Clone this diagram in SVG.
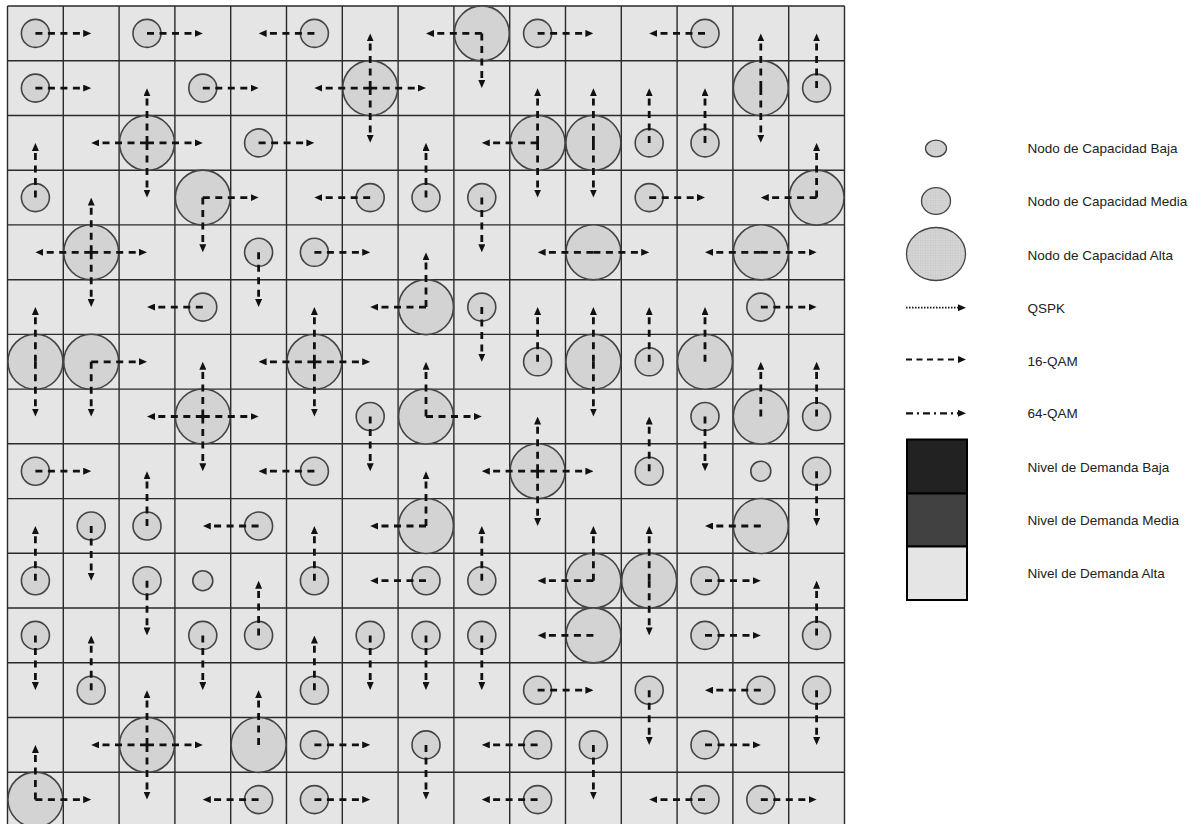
<svg xmlns="http://www.w3.org/2000/svg" width="1194" height="824" viewBox="0 0 1194 824">
<style>
.grid{stroke:#2a2a2a;stroke-width:1.4;fill:none}
.n{fill:#d3d3d3;stroke:#444;stroke-width:1.6}
.c{stroke:#111;stroke-width:2.8;stroke-dasharray:7 5.5;fill:none;marker-end:url(#ah)}
.lt{font-family:"Liberation Sans",Arial,sans-serif;font-size:13.5px;fill:#222}
.lg{fill:url(#hatch);stroke:#444;stroke-width:1.3}
</style>
<defs>
<marker id="ah" markerUnits="userSpaceOnUse" markerWidth="8" markerHeight="7" refX="0" refY="3.5" orient="auto" viewBox="0 0 8 7"><path d="M0,0 L8,3.5 L0,7 z" fill="#111"/></marker>
<pattern id="hatch" width="2.5" height="2.5" patternUnits="userSpaceOnUse"><rect width="2.5" height="2.5" fill="#d6d6d6"/><path d="M0,0 H2.5 M0,0 V2.5" stroke="#bcbcbc" stroke-width="0.5"/></pattern>
</defs>
<rect width="1194" height="824" fill="#ffffff"/>
<g id="grid">
<rect x="7.5" y="6" width="837" height="821" fill="#e5e5e5"/>
<path class="grid" d="M7.5,6V827 M63.3,6V827 M119.1,6V827 M174.9,6V827 M230.7,6V827 M286.5,6V827 M342.3,6V827 M398.1,6V827 M453.9,6V827 M509.7,6V827 M565.5,6V827 M621.3,6V827 M677.1,6V827 M732.9,6V827 M788.7,6V827 M844.5,6V827 M7.5,6H844.5 M7.5,60.7H844.5 M7.5,115.5H844.5 M7.5,170.2H844.5 M7.5,224.9H844.5 M7.5,279.7H844.5 M7.5,334.4H844.5 M7.5,389.1H844.5 M7.5,443.8H844.5 M7.5,498.6H844.5 M7.5,553.3H844.5 M7.5,608H844.5 M7.5,662.8H844.5 M7.5,717.5H844.5 M7.5,772.2H844.5"/>
</g>
<g id="nodes">
<g id="n0-0"><circle class="n" cx="35.4" cy="33.4" r="14"/></g>
<g id="n0-2"><circle class="n" cx="147" cy="33.4" r="14"/></g>
<g id="n0-5"><circle class="n" cx="314.4" cy="33.4" r="14"/></g>
<g id="n0-8"><circle class="n" cx="481.8" cy="33.4" r="27.5"/></g>
<g id="n0-9"><circle class="n" cx="537.6" cy="33.4" r="14"/></g>
<g id="n0-12"><circle class="n" cx="705" cy="33.4" r="14"/></g>
<g id="n1-0"><circle class="n" cx="35.4" cy="88.1" r="14"/></g>
<g id="n1-3"><circle class="n" cx="202.8" cy="88.1" r="14"/></g>
<g id="n1-6"><circle class="n" cx="370.2" cy="88.1" r="27.5"/></g>
<g id="n1-13"><circle class="n" cx="760.8" cy="88.1" r="27.5"/></g>
<g id="n1-14"><circle class="n" cx="816.6" cy="88.1" r="14"/></g>
<g id="n2-2"><circle class="n" cx="147" cy="142.9" r="27.5"/></g>
<g id="n2-4"><circle class="n" cx="258.6" cy="142.9" r="14"/></g>
<g id="n2-9"><circle class="n" cx="537.6" cy="142.9" r="27.5"/></g>
<g id="n2-10"><circle class="n" cx="593.4" cy="142.9" r="27.5"/></g>
<g id="n2-11"><circle class="n" cx="649.2" cy="142.9" r="14"/></g>
<g id="n2-12"><circle class="n" cx="705" cy="142.9" r="14"/></g>
<g id="n3-0"><circle class="n" cx="35.4" cy="197.6" r="14"/></g>
<g id="n3-3"><circle class="n" cx="202.8" cy="197.6" r="27.5"/></g>
<g id="n3-6"><circle class="n" cx="370.2" cy="197.6" r="14"/></g>
<g id="n3-7"><circle class="n" cx="426" cy="197.6" r="14"/></g>
<g id="n3-8"><circle class="n" cx="481.8" cy="197.6" r="14"/></g>
<g id="n3-11"><circle class="n" cx="649.2" cy="197.6" r="14"/></g>
<g id="n3-14"><circle class="n" cx="816.6" cy="197.6" r="27.5"/></g>
<g id="n4-1"><circle class="n" cx="91.2" cy="252.3" r="27.5"/></g>
<g id="n4-4"><circle class="n" cx="258.6" cy="252.3" r="14"/></g>
<g id="n4-5"><circle class="n" cx="314.4" cy="252.3" r="14"/></g>
<g id="n4-10"><circle class="n" cx="593.4" cy="252.3" r="27.5"/></g>
<g id="n4-13"><circle class="n" cx="760.8" cy="252.3" r="27.5"/></g>
<g id="n5-3"><circle class="n" cx="202.8" cy="307.1" r="14"/></g>
<g id="n5-7"><circle class="n" cx="426" cy="307.1" r="27.5"/></g>
<g id="n5-8"><circle class="n" cx="481.8" cy="307.1" r="14"/></g>
<g id="n5-13"><circle class="n" cx="760.8" cy="307.1" r="14"/></g>
<g id="n6-0"><circle class="n" cx="35.4" cy="361.8" r="27.5"/></g>
<g id="n6-1"><circle class="n" cx="91.2" cy="361.8" r="27.5"/></g>
<g id="n6-5"><circle class="n" cx="314.4" cy="361.8" r="27.5"/></g>
<g id="n6-9"><circle class="n" cx="537.6" cy="361.8" r="14"/></g>
<g id="n6-10"><circle class="n" cx="593.4" cy="361.8" r="27.5"/></g>
<g id="n6-11"><circle class="n" cx="649.2" cy="361.8" r="14"/></g>
<g id="n6-12"><circle class="n" cx="705" cy="361.8" r="27.5"/></g>
<g id="n7-3"><circle class="n" cx="202.8" cy="416.5" r="27.5"/></g>
<g id="n7-6"><circle class="n" cx="370.2" cy="416.5" r="14"/></g>
<g id="n7-7"><circle class="n" cx="426" cy="416.5" r="27.5"/></g>
<g id="n7-12"><circle class="n" cx="705" cy="416.5" r="14"/></g>
<g id="n7-13"><circle class="n" cx="760.8" cy="416.5" r="27.5"/></g>
<g id="n7-14"><circle class="n" cx="816.6" cy="416.5" r="14"/></g>
<g id="n8-0"><circle class="n" cx="35.4" cy="471.2" r="14"/></g>
<g id="n8-5"><circle class="n" cx="314.4" cy="471.2" r="14"/></g>
<g id="n8-9"><circle class="n" cx="537.6" cy="471.2" r="27.5"/></g>
<g id="n8-11"><circle class="n" cx="649.2" cy="471.2" r="14"/></g>
<g id="n8-13"><circle class="n" cx="760.8" cy="471.2" r="10"/></g>
<g id="n8-14"><circle class="n" cx="816.6" cy="471.2" r="14"/></g>
<g id="n9-1"><circle class="n" cx="91.2" cy="526" r="14"/></g>
<g id="n9-2"><circle class="n" cx="147" cy="526" r="14"/></g>
<g id="n9-4"><circle class="n" cx="258.6" cy="526" r="14"/></g>
<g id="n9-7"><circle class="n" cx="426" cy="526" r="27.5"/></g>
<g id="n9-13"><circle class="n" cx="760.8" cy="526" r="27.5"/></g>
<g id="n10-0"><circle class="n" cx="35.4" cy="580.7" r="14"/></g>
<g id="n10-2"><circle class="n" cx="147" cy="580.7" r="14"/></g>
<g id="n10-3"><circle class="n" cx="202.8" cy="580.7" r="10"/></g>
<g id="n10-5"><circle class="n" cx="314.4" cy="580.7" r="14"/></g>
<g id="n10-7"><circle class="n" cx="426" cy="580.7" r="14"/></g>
<g id="n10-8"><circle class="n" cx="481.8" cy="580.7" r="14"/></g>
<g id="n10-10"><circle class="n" cx="593.4" cy="580.7" r="27.5"/></g>
<g id="n10-11"><circle class="n" cx="649.2" cy="580.7" r="27.5"/></g>
<g id="n10-12"><circle class="n" cx="705" cy="580.7" r="14"/></g>
<g id="n11-0"><circle class="n" cx="35.4" cy="635.4" r="14"/></g>
<g id="n11-3"><circle class="n" cx="202.8" cy="635.4" r="14"/></g>
<g id="n11-4"><circle class="n" cx="258.6" cy="635.4" r="14"/></g>
<g id="n11-6"><circle class="n" cx="370.2" cy="635.4" r="14"/></g>
<g id="n11-7"><circle class="n" cx="426" cy="635.4" r="14"/></g>
<g id="n11-8"><circle class="n" cx="481.8" cy="635.4" r="14"/></g>
<g id="n11-10"><circle class="n" cx="593.4" cy="635.4" r="27.5"/></g>
<g id="n11-12"><circle class="n" cx="705" cy="635.4" r="14"/></g>
<g id="n11-14"><circle class="n" cx="816.6" cy="635.4" r="14"/></g>
<g id="n12-1"><circle class="n" cx="91.2" cy="690.2" r="14"/></g>
<g id="n12-5"><circle class="n" cx="314.4" cy="690.2" r="14"/></g>
<g id="n12-9"><circle class="n" cx="537.6" cy="690.2" r="14"/></g>
<g id="n12-11"><circle class="n" cx="649.2" cy="690.2" r="14"/></g>
<g id="n12-13"><circle class="n" cx="760.8" cy="690.2" r="14"/></g>
<g id="n12-14"><circle class="n" cx="816.6" cy="690.2" r="14"/></g>
<g id="n13-2"><circle class="n" cx="147" cy="744.9" r="27.5"/></g>
<g id="n13-4"><circle class="n" cx="258.6" cy="744.9" r="27.5"/></g>
<g id="n13-5"><circle class="n" cx="314.4" cy="744.9" r="14"/></g>
<g id="n13-7"><circle class="n" cx="426" cy="744.9" r="14"/></g>
<g id="n13-9"><circle class="n" cx="537.6" cy="744.9" r="14"/></g>
<g id="n13-10"><circle class="n" cx="593.4" cy="744.9" r="14"/></g>
<g id="n13-12"><circle class="n" cx="705" cy="744.9" r="14"/></g>
<g id="n14-0"><circle class="n" cx="35.4" cy="799.6" r="27.5"/></g>
<g id="n14-4"><circle class="n" cx="258.6" cy="799.6" r="14"/></g>
<g id="n14-5"><circle class="n" cx="314.4" cy="799.6" r="14"/></g>
<g id="n14-9"><circle class="n" cx="537.6" cy="799.6" r="14"/></g>
<g id="n14-12"><circle class="n" cx="705" cy="799.6" r="14"/></g>
<g id="n14-13"><circle class="n" cx="760.8" cy="799.6" r="14"/></g>
</g>
<g id="connectors">
<line class="c" x1="35.4" y1="33.4" x2="83.2" y2="33.4"/>
<line class="c" x1="147" y1="33.4" x2="194.8" y2="33.4"/>
<line class="c" x1="314.4" y1="33.4" x2="266.6" y2="33.4"/>
<line class="c" x1="481.8" y1="33.4" x2="434" y2="33.4"/>
<line class="c" x1="481.8" y1="33.4" x2="481.8" y2="80.1"/>
<line class="c" x1="537.6" y1="33.4" x2="585.4" y2="33.4"/>
<line class="c" x1="705" y1="33.4" x2="657.2" y2="33.4"/>
<line class="c" x1="35.4" y1="88.1" x2="83.2" y2="88.1"/>
<line class="c" x1="202.8" y1="88.1" x2="250.6" y2="88.1"/>
<line class="c" x1="370.2" y1="88.1" x2="370.2" y2="41.4"/>
<line class="c" x1="370.2" y1="88.1" x2="370.2" y2="134.8"/>
<line class="c" x1="370.2" y1="88.1" x2="322.4" y2="88.1"/>
<line class="c" x1="370.2" y1="88.1" x2="418" y2="88.1"/>
<line class="c" x1="760.8" y1="88.1" x2="760.8" y2="41.4"/>
<line class="c" x1="760.8" y1="88.1" x2="760.8" y2="134.8"/>
<line class="c" x1="816.6" y1="88.1" x2="816.6" y2="41.4"/>
<line class="c" x1="147" y1="142.9" x2="147" y2="96.2"/>
<line class="c" x1="147" y1="142.9" x2="147" y2="189.6"/>
<line class="c" x1="147" y1="142.9" x2="99.2" y2="142.9"/>
<line class="c" x1="147" y1="142.9" x2="194.8" y2="142.9"/>
<line class="c" x1="258.6" y1="142.9" x2="306.4" y2="142.9"/>
<line class="c" x1="537.6" y1="142.9" x2="489.8" y2="142.9"/>
<line class="c" x1="537.6" y1="142.9" x2="537.6" y2="96.2"/>
<line class="c" x1="537.6" y1="142.9" x2="537.6" y2="189.6"/>
<line class="c" x1="593.4" y1="142.9" x2="593.4" y2="96.2"/>
<line class="c" x1="593.4" y1="142.9" x2="593.4" y2="189.6"/>
<line class="c" x1="649.2" y1="142.9" x2="649.2" y2="96.2"/>
<line class="c" x1="705" y1="142.9" x2="705" y2="96.2"/>
<line class="c" x1="35.4" y1="197.6" x2="35.4" y2="150.9"/>
<line class="c" x1="202.8" y1="197.6" x2="250.6" y2="197.6"/>
<line class="c" x1="202.8" y1="197.6" x2="202.8" y2="244.3"/>
<line class="c" x1="370.2" y1="197.6" x2="322.4" y2="197.6"/>
<line class="c" x1="426" y1="197.6" x2="426" y2="150.9"/>
<line class="c" x1="481.8" y1="197.6" x2="481.8" y2="244.3"/>
<line class="c" x1="649.2" y1="197.6" x2="697" y2="197.6"/>
<line class="c" x1="816.6" y1="197.6" x2="768.8" y2="197.6"/>
<line class="c" x1="816.6" y1="197.6" x2="816.6" y2="150.9"/>
<line class="c" x1="91.2" y1="252.3" x2="91.2" y2="205.6"/>
<line class="c" x1="91.2" y1="252.3" x2="91.2" y2="299"/>
<line class="c" x1="91.2" y1="252.3" x2="43.4" y2="252.3"/>
<line class="c" x1="91.2" y1="252.3" x2="139" y2="252.3"/>
<line class="c" x1="258.6" y1="252.3" x2="258.6" y2="299"/>
<line class="c" x1="314.4" y1="252.3" x2="362.2" y2="252.3"/>
<line class="c" x1="593.4" y1="252.3" x2="545.6" y2="252.3"/>
<line class="c" x1="593.4" y1="252.3" x2="641.2" y2="252.3"/>
<line class="c" x1="760.8" y1="252.3" x2="713" y2="252.3"/>
<line class="c" x1="760.8" y1="252.3" x2="808.6" y2="252.3"/>
<line class="c" x1="202.8" y1="307.1" x2="155" y2="307.1"/>
<line class="c" x1="426" y1="307.1" x2="378.2" y2="307.1"/>
<line class="c" x1="426" y1="307.1" x2="426" y2="260.4"/>
<line class="c" x1="481.8" y1="307.1" x2="481.8" y2="353.8"/>
<line class="c" x1="760.8" y1="307.1" x2="808.6" y2="307.1"/>
<line class="c" x1="35.4" y1="361.8" x2="35.4" y2="315.1"/>
<line class="c" x1="35.4" y1="361.8" x2="35.4" y2="408.5"/>
<line class="c" x1="91.2" y1="361.8" x2="139" y2="361.8"/>
<line class="c" x1="91.2" y1="361.8" x2="91.2" y2="408.5"/>
<line class="c" x1="314.4" y1="361.8" x2="314.4" y2="315.1"/>
<line class="c" x1="314.4" y1="361.8" x2="314.4" y2="408.5"/>
<line class="c" x1="314.4" y1="361.8" x2="266.6" y2="361.8"/>
<line class="c" x1="314.4" y1="361.8" x2="362.2" y2="361.8"/>
<line class="c" x1="537.6" y1="361.8" x2="537.6" y2="315.1"/>
<line class="c" x1="593.4" y1="361.8" x2="593.4" y2="315.1"/>
<line class="c" x1="593.4" y1="361.8" x2="593.4" y2="408.5"/>
<line class="c" x1="649.2" y1="361.8" x2="649.2" y2="315.1"/>
<line class="c" x1="705" y1="361.8" x2="705" y2="315.1"/>
<line class="c" x1="202.8" y1="416.5" x2="202.8" y2="369.8"/>
<line class="c" x1="202.8" y1="416.5" x2="202.8" y2="463.2"/>
<line class="c" x1="202.8" y1="416.5" x2="155" y2="416.5"/>
<line class="c" x1="202.8" y1="416.5" x2="250.6" y2="416.5"/>
<line class="c" x1="370.2" y1="416.5" x2="370.2" y2="463.2"/>
<line class="c" x1="426" y1="416.5" x2="426" y2="369.8"/>
<line class="c" x1="426" y1="416.5" x2="473.8" y2="416.5"/>
<line class="c" x1="705" y1="416.5" x2="705" y2="463.2"/>
<line class="c" x1="760.8" y1="416.5" x2="760.8" y2="369.8"/>
<line class="c" x1="816.6" y1="416.5" x2="816.6" y2="369.8"/>
<line class="c" x1="35.4" y1="471.2" x2="83.2" y2="471.2"/>
<line class="c" x1="314.4" y1="471.2" x2="266.6" y2="471.2"/>
<line class="c" x1="537.6" y1="471.2" x2="537.6" y2="424.5"/>
<line class="c" x1="537.6" y1="471.2" x2="537.6" y2="517.9"/>
<line class="c" x1="537.6" y1="471.2" x2="489.8" y2="471.2"/>
<line class="c" x1="537.6" y1="471.2" x2="585.4" y2="471.2"/>
<line class="c" x1="649.2" y1="471.2" x2="649.2" y2="424.5"/>
<line class="c" x1="816.6" y1="471.2" x2="816.6" y2="517.9"/>
<line class="c" x1="91.2" y1="526" x2="91.2" y2="572.7"/>
<line class="c" x1="147" y1="526" x2="147" y2="479.3"/>
<line class="c" x1="258.6" y1="526" x2="210.8" y2="526"/>
<line class="c" x1="426" y1="526" x2="378.2" y2="526"/>
<line class="c" x1="426" y1="526" x2="426" y2="479.3"/>
<line class="c" x1="760.8" y1="526" x2="713" y2="526"/>
<line class="c" x1="35.4" y1="580.7" x2="35.4" y2="534"/>
<line class="c" x1="147" y1="580.7" x2="147" y2="627.4"/>
<line class="c" x1="314.4" y1="580.7" x2="314.4" y2="534"/>
<line class="c" x1="426" y1="580.7" x2="378.2" y2="580.7"/>
<line class="c" x1="481.8" y1="580.7" x2="481.8" y2="534"/>
<line class="c" x1="593.4" y1="580.7" x2="545.6" y2="580.7"/>
<line class="c" x1="593.4" y1="580.7" x2="593.4" y2="534"/>
<line class="c" x1="649.2" y1="580.7" x2="649.2" y2="534"/>
<line class="c" x1="649.2" y1="580.7" x2="649.2" y2="627.4"/>
<line class="c" x1="705" y1="580.7" x2="752.8" y2="580.7"/>
<line class="c" x1="35.4" y1="635.4" x2="35.4" y2="682.1"/>
<line class="c" x1="202.8" y1="635.4" x2="202.8" y2="682.1"/>
<line class="c" x1="258.6" y1="635.4" x2="258.6" y2="588.7"/>
<line class="c" x1="370.2" y1="635.4" x2="370.2" y2="682.1"/>
<line class="c" x1="426" y1="635.4" x2="426" y2="682.1"/>
<line class="c" x1="481.8" y1="635.4" x2="481.8" y2="682.1"/>
<line class="c" x1="593.4" y1="635.4" x2="545.6" y2="635.4"/>
<line class="c" x1="705" y1="635.4" x2="752.8" y2="635.4"/>
<line class="c" x1="816.6" y1="635.4" x2="816.6" y2="588.7"/>
<line class="c" x1="91.2" y1="690.2" x2="91.2" y2="643.5"/>
<line class="c" x1="314.4" y1="690.2" x2="314.4" y2="643.5"/>
<line class="c" x1="537.6" y1="690.2" x2="585.4" y2="690.2"/>
<line class="c" x1="649.2" y1="690.2" x2="649.2" y2="736.9"/>
<line class="c" x1="760.8" y1="690.2" x2="713" y2="690.2"/>
<line class="c" x1="816.6" y1="690.2" x2="816.6" y2="736.9"/>
<line class="c" x1="147" y1="744.9" x2="147" y2="698.2"/>
<line class="c" x1="147" y1="744.9" x2="147" y2="791.6"/>
<line class="c" x1="147" y1="744.9" x2="99.2" y2="744.9"/>
<line class="c" x1="147" y1="744.9" x2="194.8" y2="744.9"/>
<line class="c" x1="258.6" y1="744.9" x2="258.6" y2="698.2"/>
<line class="c" x1="314.4" y1="744.9" x2="362.2" y2="744.9"/>
<line class="c" x1="426" y1="744.9" x2="426" y2="791.6"/>
<line class="c" x1="537.6" y1="744.9" x2="489.8" y2="744.9"/>
<line class="c" x1="593.4" y1="744.9" x2="593.4" y2="791.6"/>
<line class="c" x1="705" y1="744.9" x2="752.8" y2="744.9"/>
<line class="c" x1="35.4" y1="799.6" x2="35.4" y2="752.9"/>
<line class="c" x1="35.4" y1="799.6" x2="83.2" y2="799.6"/>
<line class="c" x1="258.6" y1="799.6" x2="210.8" y2="799.6"/>
<line class="c" x1="314.4" y1="799.6" x2="362.2" y2="799.6"/>
<line class="c" x1="537.6" y1="799.6" x2="489.8" y2="799.6"/>
<line class="c" x1="705" y1="799.6" x2="657.2" y2="799.6"/>
<line class="c" x1="760.8" y1="799.6" x2="808.6" y2="799.6"/>
</g>
<g id="legend">
<ellipse class="lg" cx="936" cy="148.5" rx="10.5" ry="8.3"/>
<ellipse class="lg" cx="936" cy="201" rx="14.5" ry="13.3"/>
<ellipse class="lg" cx="936" cy="254" rx="29.5" ry="26.5"/>
<line x1="906" y1="307.7" x2="958" y2="307.7" stroke="#111" stroke-width="1.8" stroke-dasharray="1.5 1.5" marker-end="url(#ah)"/>
<line x1="906" y1="359.5" x2="958" y2="359.5" stroke="#111" stroke-width="2.2" stroke-dasharray="6 4.5" marker-end="url(#ah)"/>
<line x1="906" y1="413.3" x2="958" y2="413.3" stroke="#111" stroke-width="2.2" stroke-dasharray="7 4 2 4" marker-end="url(#ah)"/>
<rect x="907" y="439.5" width="60" height="54" fill="#222" stroke="#000" stroke-width="2"/>
<rect x="907" y="493.5" width="60" height="53" fill="#414141" stroke="#000" stroke-width="2"/>
<rect x="907" y="546.5" width="60" height="53.5" fill="#e5e5e5" stroke="#000" stroke-width="2"/>
<text class="lt" x="1027.5" y="153">Nodo de Capacidad Baja</text>
<text class="lt" x="1027.5" y="206">Nodo de Capacidad Media</text>
<text class="lt" x="1027.5" y="259.5">Nodo de Capacidad Alta</text>
<text class="lt" x="1027.5" y="312.5">QSPK</text>
<text class="lt" x="1027.5" y="365.5">16-QAM</text>
<text class="lt" x="1027.5" y="418">64-QAM</text>
<text class="lt" x="1027.5" y="472">Nivel de Demanda Baja</text>
<text class="lt" x="1027.5" y="524.5">Nivel de Demanda Media</text>
<text class="lt" x="1027.5" y="578">Nivel de Demanda Alta</text>
</g>
</svg>
